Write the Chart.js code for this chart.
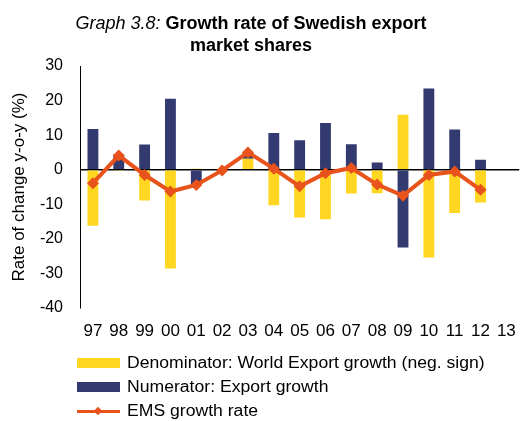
<!DOCTYPE html>
<html>
<head>
<meta charset="utf-8">
<script src="https://cdn.jsdelivr.net/npm/chart.js@4/dist/chart.umd.min.js"></script>
<style>
  body { margin: 0; background: #fff; font-family: "Liberation Sans", Arial, sans-serif; }
  #wrap { position: relative; width: 529px; height: 421px; overflow: hidden; }
  #chart { position: absolute; left: 0; top: 0; }
  #title { position: absolute; left: 0; top: 12px; width: 502px; text-align: center;
           font-size: 18px; line-height: 22px; color: #000; }
  #title i { font-weight: normal; }
  #title b { font-weight: bold; }
  #legend { position: absolute; left: 77px; top: 352px; font-size: 16px; color: #000; }
  .row { position: relative; height: 24px; line-height: 22px; white-space: nowrap; }
  .txt { position: absolute; left: 50px; top: 0; transform: scaleX(1.1); transform-origin: 0 0; }
  .box { position: absolute; left: 0; top: 6px; width: 43px; height: 10px; }
  .ln { position: absolute; left: 0; top: 10px; width: 43px; height: 3px; }
  .dm { position: absolute; left: 18px; top: 8px; width: 6px; height: 6px; transform: rotate(45deg); }
</style>
</head>
<body>
<div id="wrap">
  <canvas id="chart" width="529" height="421"></canvas>
  <div id="title"><i>Graph 3.8:</i> <b>Growth rate of Swedish export<br>market shares</b></div>
  <div id="legend"></div>
</div>
<script>
// categories (years)
const years = ['97', '98', '99', '00', '01', '02', '03', '04', '05', '06', '07', '08', '09', '10', '11', '12', '13'];

// Denominator: World export growth (neg. sign)
const denominator = [-16.2, -0.3, -8.9, -28.6, 0.3, -0.4, 3.2, -10.3, -13.8, -14.3, -6.9, -6.8, 15.9, -25.4, -12.5, -9.5, null];
// Numerator: Export growth
const numerator = [11.8, 4.3, 7.3, 20.5, -4.4, 0.2, 1.7, 10.6, 8.5, 13.5, 7.4, 2.1, -22.5, 23.5, 11.6, 2.9, null];
// EMS growth rate
const ems = [-3.9, 4.1, -1.5, -6.3, -4.4, -0.2, 5.0, 0.3, -4.8, -1.0, 0.5, -4.3, -7.5, -1.5, -0.5, -5.8, null];

const yellow = '#FFD621';
const navy = '#333A6F';
const orange = '#E8521B';
const fontFamily = '"Liberation Sans", Arial, sans-serif';

const ctx = document.getElementById('chart').getContext('2d');

const chart = new Chart(ctx, {
    type: 'bar',
    data: {
        labels: years,
        datasets: [
            {
                label: 'Denominator: World Export growth (neg. sign)',
                data: denominator,
                backgroundColor: yellow,
                stack: 'bars',
                order: 2,
                barPercentage: 0.42,
                categoryPercentage: 1
            },
            {
                label: 'Numerator: Export growth',
                data: numerator,
                backgroundColor: navy,
                stack: 'bars',
                order: 3,
                barPercentage: 0.42,
                categoryPercentage: 1
            },
            {
                type: 'line',
                label: 'EMS growth rate',
                data: ems,
                stack: 'line',
                order: 0,
                borderColor: orange,
                backgroundColor: orange,
                borderWidth: 4,
                pointStyle: 'rectRot',
                pointRadius: 6,
                pointBorderWidth: 0,
                tension: 0,
                spanGaps: false
            }
        ]
    },
    options: {
        responsive: false,
        animation: false,
        layout: { padding: { top: 66, bottom: 82, left: 6, right: 0 } },
        plugins: {
            legend: { display: false },
            tooltip: { enabled: false },
            title: { display: false }
        },
        scales: {
            x: {
                stacked: true,
                grid: { display: false, drawTicks: false },
                border: { display: false },
                ticks: { color: '#000', padding: 13, maxRotation: 0, autoSkip: false,
                         font: { family: fontFamily, size: 17 } },
                afterFit: (s) => { s.height = 31; }
            },
            y: {
                stacked: true,
                min: -40,
                max: 30,
                ticks: { stepSize: 10, color: '#000', padding: 17,
                         font: { family: fontFamily, size: 16 } },
                grid: {
                    drawTicks: false,
                    lineWidth: 1.5,
                    color: (c) => (c.tick && c.tick.value === 0 ? '#000' : 'rgba(0,0,0,0)')
                },
                border: { display: true, color: '#000', width: 1 },
                title: {
                    display: true,
                    text: 'Rate of change y-o-y (%)',
                    color: '#000',
                    padding: { top: 3, bottom: 3 },
                    font: { family: fontFamily, size: 17 }
                },
                afterFit: (s) => { s.width = 74; }
            }
        }
    }
});

// legend as real text below the chart
const legend = document.getElementById('legend');
chart.data.datasets.forEach((ds) => {
    const row = document.createElement('div');
    row.className = 'row';
    if (ds.type === 'line') {
        row.innerHTML = '<span class="ln" style="background:' + ds.borderColor + '"></span>' +
                        '<span class="dm" style="background:' + ds.borderColor + '"></span>';
    } else {
        row.innerHTML = '<span class="box" style="background:' + ds.backgroundColor + '"></span>';
    }
    const txt = document.createElement('span');
    txt.className = 'txt';
    txt.textContent = ds.label;
    row.appendChild(txt);
    legend.appendChild(row);
});
</script>
</body>
</html>
